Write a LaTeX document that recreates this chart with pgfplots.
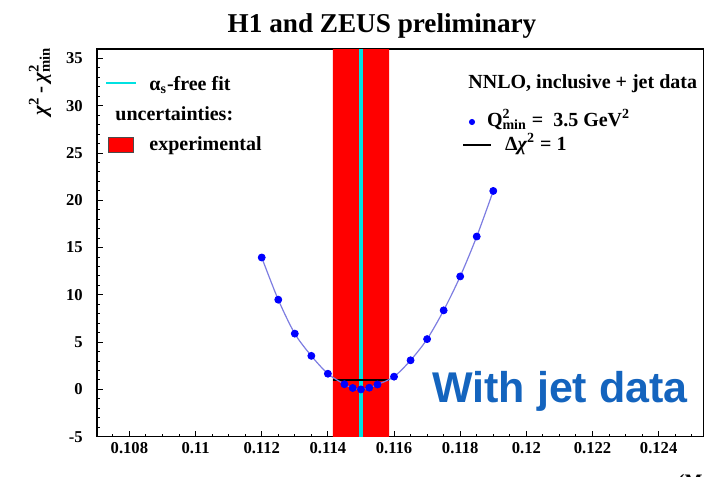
\documentclass[border=0pt]{standalone}
\usepackage{pgfplots}
\usepackage{pgfplotstable}
\pgfplotsset{compat=1.18}
\usepackage{fontspec}
\setmainfont{Liberation Serif}
\newfontfamily\arialfont{Liberation Sans}
\definecolor{bandred}{RGB}{255,0,0}
\definecolor{cyanline}{RGB}{0,225,225}
\definecolor{ptblue}{RGB}{0,0,255}
\definecolor{curveblue}{RGB}{125,125,225}
\definecolor{jetblue}{RGB}{20,100,190}
\pgfplotsset{dotlegend/.style={legend image code/.code={\draw[mark repeat=2, mark phase=2, ##1] plot coordinates {(0pt,2pt) (4.5pt,2pt) (9pt,2pt)};}}}

\pgfplotstableread{
x y
0.112 13.95
0.1125 9.49
0.113 5.90
0.1135 3.55
0.114 1.66
0.1145 0.55
0.11475 0.15
0.115 0.0
0.11525 0.18
0.1155 0.52
0.116 1.35
0.1165 3.08
0.117 5.32
0.1175 8.36
0.118 11.95
0.1185 16.17
0.119 20.99
}\chisq

\pgfplotstableread{
x y
0.11415 -6
0.11585 -6
0.11585 40
0.11415 40
0.11415 -6
}\band

\pgfplotstableread{
x y
0.1150 -6
0.1150 40
}\central

\pgfplotstableread{
x y
0.11415 1
0.11585 1
}\deltaone

\begin{document}
\begin{tikzpicture}[x=1pt,y=1pt]
\useasboundingbox (0,0) rectangle (355,238);
\begin{axis}[
  at={(48.5pt,19.65pt)}, anchor=south west,
  scale only axis, width=303.15pt, height=193.85pt,
  xmin=0.10702, xmax=0.12535, ymin=-5, ymax=36,
  xtick={0.108,0.11,0.112,0.114,0.116,0.118,0.12,0.122,0.124},
  xticklabels={0.108,0.11,0.112,0.114,0.116,0.118,0.12,0.122,0.124},
  minor xtick={0.1075,0.108,0.1085,0.109,0.1095,0.11,0.1105,0.111,0.1115,0.112,0.1125,0.113,0.1135,0.114,0.1145,0.115,0.1155,0.116,0.1165,0.117,0.1175,0.118,0.1185,0.119,0.1195,0.12,0.1205,0.121,0.1215,0.122,0.1225,0.123,0.1235,0.124,0.1245,0.125},
  ytick={-5,0,5,10,15,20,25,30,35},
  yticklabels={-5,0,5,10,15,20,25,30,35},
  minor ytick={-4,-3,-2,-1,1,2,3,4,6,7,8,9,11,12,13,14,16,17,18,19,21,22,23,24,26,27,28,29,31,32,33,34,36},
  xtick pos=left, ytick pos=left,
  tick align=inside,
  major tick length=3pt, minor tick length=1.5pt,
  tick style={black, line width=0.5pt},
  axis line style={line width=0.6pt},
  ticklabel style={font=\fontsize{8.3}{10}\selectfont\bfseries, inner sep=0pt},
  xticklabel style={yshift=-2.5pt},
  yticklabel style={xshift=-7pt},
  scaled x ticks=false,
  legend cell align=left,
  legend style={at={(0.0132,0.9329)}, anchor=north west, draw=none, fill=none,
    inner sep=0pt, outer sep=0pt, row sep=0pt,
    nodes={inner sep=0pt, outer sep=0pt, text height=7.5pt, text depth=7.5pt, font=\fontsize{10}{12}\selectfont\bfseries},
    /tikz/every odd column/.append style={column sep=6pt}},
]
\addplot[fill=bandred, draw=none, forget plot] table {\band};
\addplot[cyanline, line width=2.2pt, forget plot] table {\central};
\addplot[black, line width=0.6pt, forget plot] table {\deltaone};
\addplot[curveblue, line width=0.6pt, smooth, forget plot] table {\chisq};
\addplot[only marks, mark=*, mark size=1.75pt, ptblue, forget plot] table {\chisq};

\addlegendimage{legend image code/.code={\draw[cyanline, line width=1.2pt] (0pt,3.5pt) -- (15pt,3.5pt);}}
\addlegendentry{α\textsubscript{s}-free fit}
\addlegendimage{empty legend}
\addlegendentry{\hspace*{-17pt}uncertainties:}
\addlegendimage{legend image code/.code={\draw[fill=bandred, draw=black!70, line width=0.5pt] (1pt,-1pt) rectangle (13.5pt,6.5pt);}}
\addlegendentry{experimental}
\end{axis}

\begin{axis}[
  at={(48.5pt,19.65pt)}, anchor=south west,
  scale only axis, width=303.15pt, height=193.85pt,
  xmin=0, xmax=1, ymin=0, ymax=1, hide axis,
  legend cell align=left,
  legend style={at={(0.602,0.8323)}, anchor=north west, draw=none, fill=none,
    inner sep=0pt, outer sep=0pt, row sep=0pt,
    nodes={inner sep=0pt, outer sep=0pt, text height=6pt, text depth=6pt, font=\fontsize{10}{12}\selectfont\bfseries},
    /tikz/every odd column/.append style={column sep=6.5pt}},
]
\addlegendimage{only marks, mark=*, mark size=1.3pt, ptblue, dotlegend}
\addlegendentry{\hspace*{-9pt}Q\rlap{\textsuperscript{2}}\textsubscript{min} =\ \ 3.5 GeV\textsuperscript{2}}
\addlegendimage{legend image code/.code={\draw[black, line width=1pt] (0pt,2.5pt) -- (14pt,2.5pt);}}
\addlegendentry{Δ\textit{χ}\textsuperscript{2} = 1}
\end{axis}

\node[anchor=base west, inner sep=0pt, font=\fontsize{10}{12}\selectfont\bfseries] at (234pt,193.5pt) {NNLO, inclusive + jet data};
\node[anchor=base, inner sep=0pt, font=\fontsize{13.6}{16}\selectfont\bfseries] at (191pt,221.5pt) {H1 and ZEUS preliminary};
\node[anchor=east, rotate=90, inner sep=0pt, font=\fontsize{10.5}{12}\selectfont\bfseries] at (20pt,214.5pt) {\textit{χ}\textsuperscript{2}\,-\,\textit{χ}\rlap{\textsuperscript{2}}\textsubscript{min}};
\node[anchor=base west, inner sep=0pt, font=\arialfont\bfseries\fontsize{21.5}{25}\selectfont, text=jetblue] at (216pt,37pt) {With jet data};
\node[anchor=base west, inner sep=0pt, font=\fontsize{9.5}{11}\selectfont\bfseries] at (330.5pt,-5.5pt) {α\textsubscript{s}(M\textsubscript{Z}\textsuperscript{2})};
\end{tikzpicture}
\end{document}
